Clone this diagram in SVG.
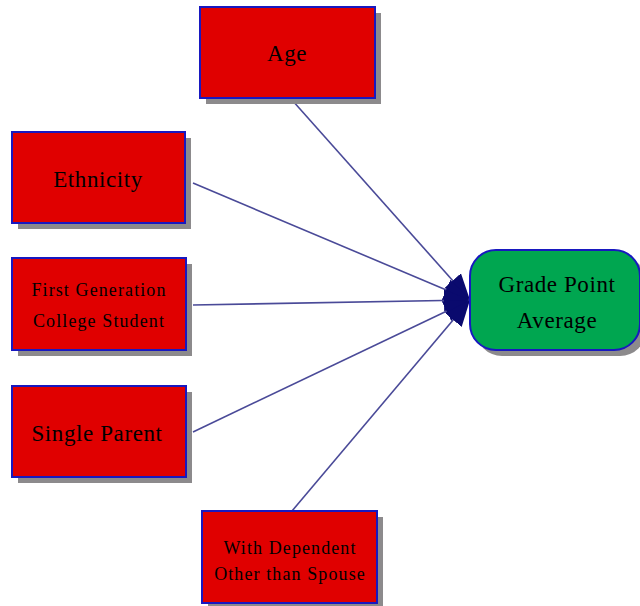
<svg xmlns="http://www.w3.org/2000/svg" width="640" height="606" viewBox="0 0 640 606">
  <style>
    .shadow { fill: #8c8a8c; }
    .box { fill: #e00000; stroke: #1818c0; stroke-width: 2; }
    .goal { fill: #00a650; stroke: #1818c0; stroke-width: 2; }
    .lbl { font-family: "Liberation Serif", "DejaVu Serif", serif; fill: #000; text-anchor: middle; }
    .big { font-size: 23px; letter-spacing: 0.6px; }
    .small { font-size: 18px; letter-spacing: 1.1px; }
    .link { stroke: #4a4a98; stroke-width: 1.6; fill: none; marker-end: url(#head); }
  </style>
  <defs>
    <marker id="head" markerUnits="userSpaceOnUse" markerWidth="28" markerHeight="24" refX="26" refY="11" orient="auto">
      <path d="M0,0 L26,11 L0,22 Z" fill="#0a0a6e"/>
    </marker>
  </defs>
  <rect width="640" height="606" fill="#fff"/>

  <g id="connectors">
    <line class="link" x1="292" y1="100" x2="470" y2="300"/>
    <line class="link" x1="193" y1="183" x2="470" y2="300"/>
    <line class="link" x1="193" y1="305" x2="470" y2="300"/>
    <line class="link" x1="193" y1="432" x2="470" y2="300"/>
    <line class="link" x1="292" y1="511" x2="470" y2="300"/>
  </g>

  <g id="age">
    <rect class="shadow" x="206" y="13" width="175" height="91"/>
    <rect class="box" x="200" y="7" width="175" height="91"/>
    <text class="lbl big" x="287" y="61">Age</text>
  </g>

  <g id="ethnicity">
    <rect class="shadow" x="18" y="138" width="173" height="91"/>
    <rect class="box" x="12" y="132" width="173" height="91"/>
    <text class="lbl big" x="98" y="187">Ethnicity</text>
  </g>

  <g id="first-generation">
    <rect class="shadow" x="18" y="264" width="174" height="92"/>
    <rect class="box" x="12" y="258" width="174" height="92"/>
    <text class="lbl small" x="99" y="296">First Generation</text>
    <text class="lbl small" x="99" y="327">College Student</text>
  </g>

  <g id="single-parent">
    <rect class="shadow" x="18" y="392" width="174" height="91"/>
    <rect class="box" x="12" y="386" width="174" height="91"/>
    <text class="lbl big" x="97" y="441">Single Parent</text>
  </g>

  <g id="with-dependent">
    <rect class="shadow" x="208" y="517" width="175" height="92"/>
    <rect class="box" x="202" y="511" width="175" height="92"/>
    <text class="lbl small" x="290" y="554">With Dependent</text>
    <text class="lbl small" x="290" y="580">Other than Spouse</text>
  </g>

  <g id="gpa">
    <rect class="shadow" x="476" y="256" width="170" height="100" rx="26" ry="26"/>
    <rect class="goal" x="470" y="250" width="170" height="100" rx="26" ry="26"/>
    <text class="lbl big" x="557" y="292">Grade Point</text>
    <text class="lbl big" x="557" y="328">Average</text>
  </g>
</svg>
